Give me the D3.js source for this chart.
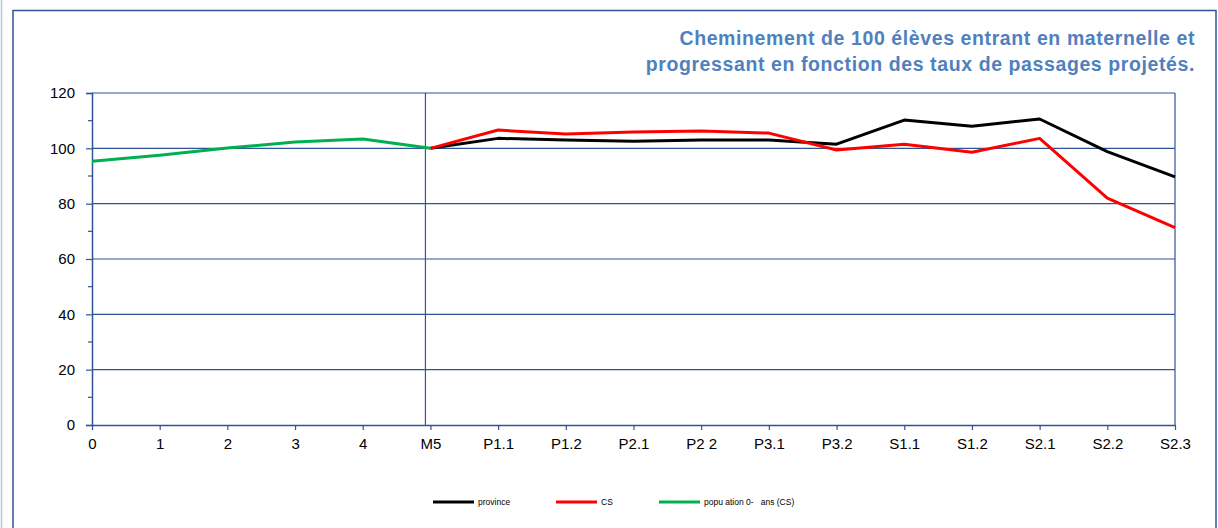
<!DOCTYPE html>
<html>
<head>
<meta charset="utf-8">
<script src="https://cdn.jsdelivr.net/npm/d3@7"></script>
<style>
  body { margin: 0; background: #fff; }
  svg { display: block; font-family: "Liberation Sans", Arial, sans-serif; }
</style>
</head>
<body>
<div class="chart"></div>
<script>
let width = 1218
let height = 528

let categories = ['0', '1', '2', '3', '4', 'M5', 'P1.1', 'P1.2', 'P2.1', 'P2 2', 'P3.1', 'P3.2', 'S1.1', 'S1.2', 'S2.1', 'S2.2', 'S2.3']
let province = [null, null, null, null, null, 100, 103.6, 103, 102.6, 103, 103, 101.5, 110.2, 108, 110.6, 98.8, 89.7]
let cs = [null, null, null, null, null, 100, 106.6, 105.2, 105.9, 106.3, 105.5, 99.4, 101.5, 98.6, 103.6, 82, 71.3]
let population = [95.3, 97.5, 100.1, 102.3, 103.4, 100, null, null, null, null, null, null, null, null, null, null, null]
let yTicks = [0, 20, 40, 60, 80, 100, 120]
let yMinor = [10, 30, 50, 70, 90, 110]

let seriesNames = ['province', 'CS', 'popu ation 0-   ans (CS)']
let seriesColors = ['#000000', '#ff0000', '#00b050']
let titleLines = ['Cheminement de 100 élèves entrant en maternelle et', 'progressant en fonction des taux de passages projetés.']

let axisBlue = '#2f5496'
let margin = { left: 92, right: 1175, top: 93, bottom: 425 }

let x = d3.scalePoint()
    .domain(categories)
    .range([margin.left, margin.right])

let y = d3.scaleLinear()
    .domain([0, 120])
    .range([margin.bottom, margin.top])

const svg = d3.create("svg")
    .attr("width", width)
    .attr("height", height)

// outer frame
svg.append("line")
    .attr("x1", 1.5).attr("x2", 1.5).attr("y1", 0).attr("y2", height)
    .attr("stroke", "#b4c6e0").attr("stroke-width", 1.5)
svg.append("rect")
    .attr("x", 13).attr("y", 10.5)
    .attr("width", 1203).attr("height", height + 10)
    .attr("fill", "none")
    .attr("stroke", axisBlue)
    .attr("stroke-width", 1.5)

// title
svg.append("g")
    .selectAll("text")
    .data(titleLines)
    .join("text")
    .attr("x", 1195)
    .attr("y", (d, i) => 45 + i * 26)
    .attr("text-anchor", "end")
    .attr("font-size", 19.5)
    .attr("letter-spacing", 0.6)
    .attr("font-weight", "bold")
    .attr("fill", "#4f81bd")
    .text(d => d)

// gridlines
svg.append("g")
    .selectAll("line")
    .data(yTicks.filter(d => d > 0))
    .join("line")
    .attr("x1", margin.left).attr("x2", margin.right)
    .attr("y1", d => y(d)).attr("y2", d => y(d))
    .attr("stroke", axisBlue)
    .attr("stroke-width", 1.2)

// right border of plot area
svg.append("line")
    .attr("x1", margin.right).attr("x2", margin.right)
    .attr("y1", margin.top).attr("y2", margin.bottom)
    .attr("stroke", axisBlue).attr("stroke-width", 1.2)

// divider near M5
svg.append("line")
    .attr("x1", x('M5') - 5).attr("x2", x('M5') - 5)
    .attr("y1", margin.top).attr("y2", margin.bottom)
    .attr("stroke", axisBlue).attr("stroke-width", 1.2)

// y axis
let yAxis = d3.axisLeft(y).tickValues(yTicks).tickSize(6).tickPadding(11)
let gy = svg.append("g")
    .attr("transform", `translate(${margin.left},0)`)
    .call(yAxis)
gy.select(".domain").attr("stroke", axisBlue).attr("stroke-width", 1.5)
gy.selectAll(".tick line").attr("stroke", axisBlue).attr("stroke-width", 1.2)
gy.selectAll("text").attr("font-size", 15).attr("fill", "#000").attr("font-family", "Liberation Sans, Arial, sans-serif")
gy.append("g")
    .selectAll("line")
    .data(yMinor)
    .join("line")
    .attr("x1", -4).attr("x2", 0)
    .attr("y1", d => y(d)).attr("y2", d => y(d))
    .attr("stroke", axisBlue).attr("stroke-width", 1.2)

// x axis
let xAxis = d3.axisBottom(x).tickSize(5).tickPadding(8).tickSizeOuter(0)
let gx = svg.append("g")
    .attr("transform", `translate(0,${margin.bottom})`)
    .call(xAxis)
gx.select(".domain").attr("stroke", axisBlue).attr("stroke-width", 1.5)
gx.selectAll(".tick line").attr("stroke", axisBlue).attr("stroke-width", 1.2)
gx.selectAll("text").attr("font-size", 15).attr("fill", "#000").attr("font-family", "Liberation Sans, Arial, sans-serif")

// series
let series = [province, cs, population]
let line = d3.line()
    .defined(d => d.v != null)
    .x(d => x(d.c))
    .y(d => y(d.v))

svg.append("g")
    .selectAll("path")
    .data(series)
    .join("path")
    .attr("fill", "none")
    .attr("stroke", (d, i) => seriesColors[i])
    .attr("stroke-width", 3)
    .attr("stroke-linejoin", "round")
    .attr("d", d => line(d.map((v, i) => ({ c: categories[i], v: v }))))

// legend
let legendX = [433, 556, 659]
let legend = svg.append("g")
    .selectAll("g")
    .data(seriesNames)
    .join("g")
    .attr("transform", (d, i) => `translate(${legendX[i]},502)`)
legend.append("line")
    .attr("x1", 0).attr("x2", 41)
    .attr("stroke", (d, i) => seriesColors[i])
    .attr("stroke-width", 3)
legend.append("text")
    .attr("x", 45)
    .attr("dy", "0.35em")
    .attr("font-size", 8.5)
    .attr("fill", "#000")
    .style("white-space", "pre")
    .text(d => d)

d3.select(".chart").node().append(svg.node())
</script>
</body>
</html>
